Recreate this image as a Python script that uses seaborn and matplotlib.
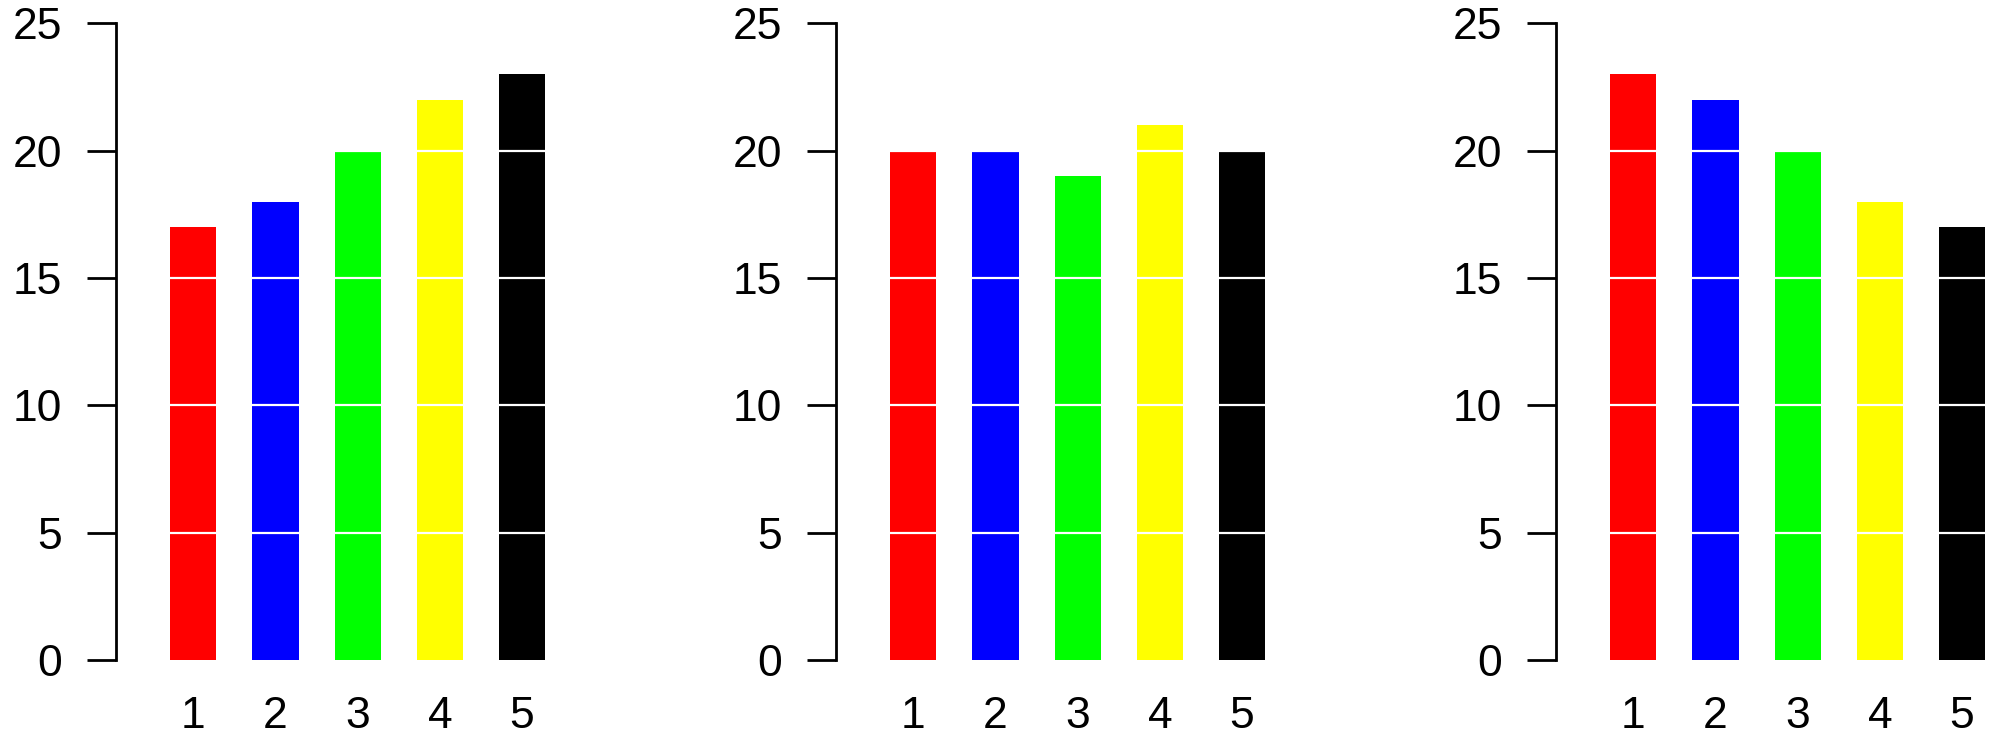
import numpy as np
import pandas as pd
import matplotlib
matplotlib.use("Agg")
import matplotlib.pyplot as plt
import seaborn as sns

# values
categories = ["1", "2", "3", "4", "5"]
left_values = [17, 18, 20, 22, 23]
middle_values = [20, 20, 19, 21, 20]
right_values = [23, 22, 20, 18, 17]
bar_colors = ["#FF0000", "#0000FF", "#00FF00", "#FFFF00", "#000000"]
y_ticks = [0, 5, 10, 15, 20, 25]

sns.set_style("white")
plt.rcParams['font.family'] = ['Liberation Sans', 'DejaVu Sans']

W, H = 2012, 742
fig = plt.figure(figsize=(W / 100, H / 100), dpi=100)

bar_step = 82.2      # pixels between bar centres
first_off = 77.3     # pixels from y axis to first bar centre
ax_w = 460
panel_left = [116, 836, 1556]
y0_px, y25_px = 660, 23.3

for left, vals in zip(panel_left, [left_values, middle_values, right_values]):
    ax = fig.add_axes([left / W, (H - y0_px) / H, ax_w / W, (y0_px - y25_px) / H])
    df = pd.DataFrame({"cat": categories, "val": vals})
    sns.barplot(data=df, x="cat", y="val", hue="cat", palette=bar_colors,
                width=0.56, legend=False, saturation=1, ax=ax, zorder=1)
    for p in ax.patches:
        p.set_edgecolor("none")
    # white reference lines over the bars
    for h in [5, 10, 15, 20]:
        ax.axhline(h, color="white", lw=1.6, zorder=2)
    ax.set_xlim(-first_off / bar_step, -first_off / bar_step + ax_w / bar_step)
    ax.set_ylim(0, 25)
    ax.set_yticks(y_ticks)
    ax.set_xlabel("")
    ax.set_ylabel("")
    for s in ["top", "right", "bottom"]:
        ax.spines[s].set_visible(False)
    ax.spines["left"].set_linewidth(2)
    ax.spines["left"].set_color("black")
    ax.tick_params(axis="y", length=21, width=2, pad=18, labelsize=32,
                   colors="black", left=True)
    ax.tick_params(axis="x", length=0, pad=26, labelsize=32, colors="black")
    ax.set_facecolor("none")
    ax.grid(False)

fig.savefig("out.png", dpi=100)
